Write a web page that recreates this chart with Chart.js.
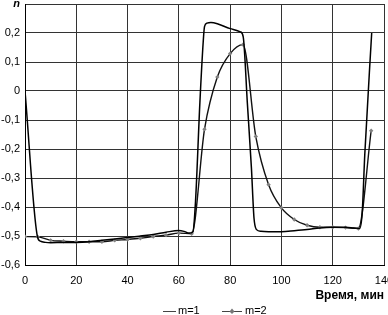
<!DOCTYPE html>
<html>
<head>
<meta charset="utf-8">
<script src="https://cdn.jsdelivr.net/npm/chart.js@4/dist/chart.umd.min.js"></script>
<style>
  html, body { margin: 0; padding: 0; background: #fff; }
  #wrap { width: 388px; height: 315px; position: relative; }
</style>
</head>
<body>
<div id="wrap"><canvas id="c" width="388" height="315"></canvas></div>
<script>
// ---- data ----
const m1Times  = [0, 4.8, 6, 8, 10, 15, 20, 25, 30, 35, 40, 45, 50, 55, 60, 62, 64, 65.5, 66.5, 68.2, 69.5, 70, 71, 72.5, 75, 80, 84, 85.1, 86.7, 88.3, 89.3, 90.3, 92, 95, 100, 105, 110, 115, 120, 125, 128, 130.5, 131.5, 132.5, 135.2];
const m1Values = [0, -0.5, -0.518, -0.522, -0.523, -0.522, -0.522, -0.52, -0.515, -0.51, -0.505, -0.5, -0.495, -0.487, -0.481, -0.484, -0.49, -0.485, -0.38, -0.04, 0.17, 0.222, 0.234, 0.236, 0.232, 0.215, 0.204, 0.187, -0.04, -0.266, -0.438, -0.478, -0.484, -0.485, -0.485, -0.482, -0.478, -0.472, -0.47, -0.47, -0.472, -0.474, -0.42, -0.22, 0.2];

const m2Times  = [0, 5, 10, 15, 20, 25, 30, 35, 40, 45, 50, 55, 60, 65, 70, 75, 80, 85, 90, 95, 100, 105, 110, 115, 120, 125, 130, 135];
const m2Values = [-0.502, -0.503, -0.515, -0.518, -0.52, -0.52, -0.52, -0.515, -0.512, -0.508, -0.502, -0.497, -0.49, -0.492, -0.132, 0.048, 0.129, 0.16, -0.157, -0.323, -0.403, -0.443, -0.463, -0.47, -0.47, -0.471, -0.474, -0.137];

const seriesNames = ['m=1', 'm=2'];
const xTitle = 'Время, мин';
const yTitle = 'n';
const xTicks = [0, 20, 40, 60, 80, 100, 120, 140];
const yTicks = [-0.6, -0.5, -0.4, -0.3, -0.2, -0.1, 0, 0.1, 0.2, 0.3];

const FONT = '"Liberation Sans", Arial, sans-serif';

const toPts = (xs, ys) => xs.map((x, i) => ({x: x, y: ys[i]}));

const legendPlugin = {
  id: 'customLegend',
  afterDraw(chart) {
    const ctx = chart.ctx;
    ctx.save();
    const y = 311;
    ctx.font = '11px ' + FONT;
    ctx.textBaseline = 'middle';
    ctx.fillStyle = '#000';
    // m=1
    ctx.strokeStyle = '#444';
    ctx.lineWidth = 1;
    ctx.beginPath(); ctx.moveTo(163, y + 0.5); ctx.lineTo(176, y + 0.5); ctx.stroke();
    ctx.fillText(seriesNames[0], 178, y);
    // m=2
    ctx.strokeStyle = '#444';
    ctx.beginPath(); ctx.moveTo(222, y + 0.5); ctx.lineTo(242, y + 0.5); ctx.stroke();
    ctx.fillStyle = '#777';
    ctx.beginPath();
    ctx.moveTo(232, y - 2.5); ctx.lineTo(234.5, y + 0.5); ctx.lineTo(232, y + 3); ctx.lineTo(229.5, y + 0.5);
    ctx.closePath(); ctx.fill();
    ctx.fillStyle = '#000';
    ctx.fillText(seriesNames[1], 245, y);
    ctx.restore();
  }
};

new Chart(document.getElementById('c'), {
  type: 'line',
  data: {
    datasets: [
      {
        label: seriesNames[0],
        data: toPts(m1Times, m1Values),
        borderColor: '#000',
        borderWidth: 1.5,
        pointRadius: 0,
        cubicInterpolationMode: 'monotone',
        fill: false
      },
      {
        label: seriesNames[1],
        data: toPts(m2Times, m2Values),
        borderColor: '#111',
        borderWidth: 1.4,
        pointStyle: 'rectRot',
        pointRadius: 2.2,
        pointBackgroundColor: '#808080',
        pointBorderColor: '#808080',
        pointBorderWidth: 0,
        cubicInterpolationMode: 'monotone',
        fill: false
      }
    ]
  },
  options: {
    responsive: false,
    animation: false,
    devicePixelRatio: 1,
    layout: { padding: { left: 0, right: 4, top: 2, bottom: 0 } },
    plugins: {
      legend: { display: false },
      tooltip: { enabled: false }
    },
    scales: {
      x: {
        type: 'linear',
        min: 0, max: 140,
        afterBuildTicks: s => { s.ticks = xTicks.map(v => ({value: v})); },
        afterFit: s => { s.height = 50; s.paddingLeft = 0; s.paddingRight = 0; },
        grid: { color: '#333', lineWidth: 1, drawTicks: false },
        border: { color: '#000', width: 1 },
        ticks: {
          color: '#000',
          padding: 9,
          maxRotation: 0,
          font: { family: FONT, size: 11 },
          callback: v => String(v)
        },
        title: {
          display: true,
          text: xTitle,
          align: 'end',
          color: '#000',
          font: { family: FONT, size: 12, weight: 'bold' },
          padding: { top: 0, bottom: 12 }
        }
      },
      y: {
        type: 'linear',
        min: -0.6, max: 0.3,
        afterBuildTicks: s => { s.ticks = yTicks.map(v => ({value: v})); },
        afterFit: s => { s.width = 25; s.paddingTop = 0; s.paddingBottom = 0; },
        grid: { color: '#333', lineWidth: 1, drawTicks: false },
        border: { color: '#000', width: 1 },
        ticks: {
          color: '#000',
          padding: 5,
          font: ctx => (ctx.tick && Math.abs(ctx.tick.value - 0.3) < 1e-9)
            ? { family: FONT, size: 11, weight: 'bold', style: 'italic' }
            : { family: FONT, size: 11 },
          callback: v => Math.abs(v - 0.3) < 1e-9 ? yTitle : (Math.abs(v) < 1e-9 ? '0' : String(Math.round(v * 10) / 10).replace('.', ','))
        }
      }
    }
  },
  plugins: [legendPlugin]
});
</script>
</body>
</html>
